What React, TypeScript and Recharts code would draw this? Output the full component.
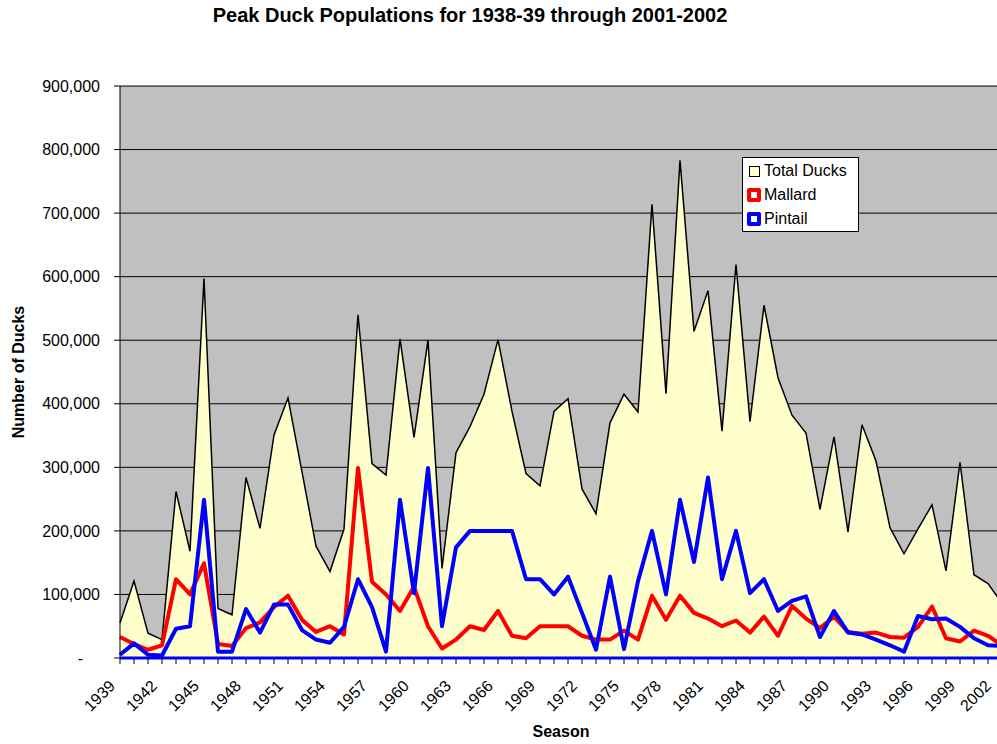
import React from 'react';
import {
  ComposedChart, Area, Line, XAxis, YAxis, CartesianGrid, Legend,
} from 'recharts';

const FONT = '"Liberation Sans", Arial, sans-serif';

// season end years, one point each
const years = [
  1939, 1940, 1941, 1942, 1943, 1944, 1945, 1946, 1947, 1948,
  1949, 1950, 1951, 1952, 1953, 1954, 1955, 1956, 1957, 1958,
  1959, 1960, 1961, 1962, 1963, 1964, 1965, 1966, 1967, 1968,
  1969, 1970, 1971, 1972, 1973, 1974, 1975, 1976, 1977, 1978,
  1979, 1980, 1981, 1982, 1983, 1984, 1985, 1986, 1987, 1988,
  1989, 1990, 1991, 1992, 1993, 1994, 1995, 1996, 1997, 1998,
  1999, 2000, 2001, 2002,
];

// years that get a printed label on the x axis
const labeledYears = [
  1939, 1942, 1945, 1948, 1951, 1954, 1957, 1960, 1963, 1966, 1969,
  1972, 1975, 1978, 1981, 1984, 1987, 1990, 1993, 1996, 1999, 2002,
];

const totalDucks = [
  55000, 121000, 39000, 29000, 262000, 168000, 597000, 78000, 68000, 284000,
  204000, 351000, 409000, 293000, 176000, 136000, 203000, 540000, 306000, 288000,
  502000, 347000, 500000, 141000, 323000, 364000, 415000, 501000, 388000, 290000,
  271000, 388000, 408000, 266000, 227000, 370000, 415000, 387000, 714000, 416000,
  783000, 514000, 578000, 357000, 619000, 372000, 555000, 441000, 382000, 354000,
  234000, 348000, 198000, 367000, 310000, 205000, 164000, 203000, 241000, 137000,
  308000, 131000, 117000, 86000,
];

const mallard = [
  33000, 22000, 13000, 20000, 124000, 100000, 149000, 22000, 19000, 47000,
  56000, 80000, 98000, 60000, 41000, 50000, 37000, 299000, 120000, 100000,
  74000, 112000, 50000, 15000, 29000, 50000, 44000, 74000, 35000, 31000,
  50000, 50000, 50000, 35000, 29000, 29000, 43000, 29000, 98000, 60000,
  98000, 71000, 62000, 50000, 59000, 40000, 65000, 35000, 82000, 62000,
  47000, 65000, 41000, 38000, 40000, 33000, 32000, 49000, 81000, 31000,
  26000, 43000, 35000, 20000,
];

const pintail = [
  5000, 23000, 5000, 4000, 46000, 50000, 249000, 10000, 10000, 77000,
  40000, 84000, 84000, 44000, 29000, 24000, 49000, 124000, 80000, 10000,
  249000, 102000, 299000, 50000, 174000, 200000, 200000, 200000, 200000, 124000,
  124000, 100000, 128000, 71000, 13000, 128000, 14000, 121000, 200000, 100000,
  249000, 151000, 284000, 124000, 200000, 102000, 124000, 74000, 90000, 97000,
  33000, 74000, 40000, 37000, 29000, 20000, 10000, 66000, 61000, 62000,
  49000, 31000, 20000, 19000,
];

const yTicks = [0, 100000, 200000, 300000, 400000, 500000, 600000, 700000, 800000, 900000];

const data = years.map((year, i) => ({
  year,
  total: totalDucks[i],
  mallard: mallard[i],
  pintail: pintail[i],
}));

const legendItems = [
  { label: 'Total Ducks', fill: '#FFFFCC', border: '#000000', size: 11, width: 1 },
  { label: 'Mallard', fill: '#FFFFFF', border: '#FF0000', size: 14, width: 4 },
  { label: 'Pintail', fill: '#FFFFFF', border: '#0000FF', size: 14, width: 4 },
];

function XTick(props: any) {
  const { x, y, payload } = props;
  if (!labeledYears.includes(Number(payload.value))) return null;
  // last label is pulled back inside the page, as in the original
  const ax = Math.min(x - 4, 992);
  const ay = y + 21;
  return (
    <text
      x={ax} y={ay}
      transform={`rotate(-45, ${ax}, ${ay})`}
      textAnchor="end"
      fontFamily={FONT}
      fontSize={16}
      fill="#000"
    >
      {payload.value}
    </text>
  );
}

function YTick(props: any) {
  const { x, y, payload } = props;
  const v = Number(payload.value);
  return (
    <text
      x={v === 0 ? x - 17 : x}
      y={y}
      dy="0.355em"
      textAnchor="end"
      fontFamily={FONT}
      fontSize={16}
      fill="#000"
    >
      {v === 0 ? '-' : v.toLocaleString('en-US')}
    </text>
  );
}

function renderLegend() {
  return (
    <div
      style={{
        width: 117, height: 75, boxSizing: 'border-box',
        background: '#fff', border: '1px solid #000',
        padding: '1px 0 0 4px', fontFamily: FONT, fontSize: 16, color: '#000',
      }}
    >
      {legendItems.map((it) => (
        <div key={it.label} style={{ display: 'flex', alignItems: 'center', height: 24 }}>
          <span style={{ width: 14, display: 'flex', justifyContent: 'center' }}>
            <span
              style={{
                display: 'block', width: it.size, height: it.size, boxSizing: 'border-box',
                background: it.fill, border: `${it.width}px solid ${it.border}`,
                borderRadius: it.width > 1 ? 2 : 0,
              }}
            />
          </span>
          <span style={{ marginLeft: 3, whiteSpace: 'nowrap' }}>{it.label}</span>
        </div>
      ))}
    </div>
  );
}

export default function App() {
  return (
    <div style={{ position: 'relative', width: 997, height: 744, overflow: 'hidden', background: '#fff' }}>
      <style>{'html,body{margin:0;overflow:hidden}'}</style>
      <div
        style={{
          position: 'absolute', left: 0, top: 5, width: 940, textAlign: 'center',
          fontFamily: FONT, fontWeight: 'bold', fontSize: 20, lineHeight: '20px', color: '#000',
        }}
      >
        Peak Duck Populations for 1938-39 through 2001-2002
      </div>
      <ComposedChart
        width={1008}
        height={744}
        data={data}
        margin={{ top: 86, right: 6, bottom: 0, left: 0 }}
      >
        <CartesianGrid vertical={false} fill="#C0C0C0" stroke="#000" strokeOpacity={1} />
        <YAxis
          domain={[0, 900000]}
          ticks={yTicks}
          interval={0}
          width={120}
          tickSize={6}
          tickMargin={14}
          tick={<YTick />}
          tickLine={{ stroke: '#000' }}
          axisLine={{ stroke: '#000' }}
          label={(p: any) => {
            const vb = p.viewBox;
            const cx = vb.x + 18;
            const cy = vb.y + vb.height / 2;
            return (
              <text
                x={cx} y={cy}
                transform={`rotate(-90, ${cx}, ${cy})`}
                textAnchor="middle"
                dominantBaseline="central"
                fontFamily={FONT}
                fontWeight="bold"
                fontSize={16}
                fill="#000"
              >
                Number of Ducks
              </text>
            );
          }}
        />
        <Area
          type="linear"
          dataKey="total"
          name="Total Ducks"
          fill="#FFFFCC"
          fillOpacity={1}
          stroke="#000"
          strokeWidth={1.5}
          isAnimationActive={false}
        />
        <Line
          type="linear"
          dataKey="mallard"
          name="Mallard"
          stroke="#FF0000"
          strokeWidth={4}
          strokeLinejoin="round"
          dot={false}
          activeDot={false}
          isAnimationActive={false}
        />
        <Line
          type="linear"
          dataKey="pintail"
          name="Pintail"
          stroke="#0000FF"
          strokeWidth={4}
          strokeLinejoin="round"
          dot={false}
          activeDot={false}
          isAnimationActive={false}
        />
        <XAxis
          dataKey="year"
          scale="point"
          padding={{ left: 0, right: 0 }}
          interval={0}
          height={86}
          tickSize={6}
          tick={<XTick />}
          tickLine={{ stroke: '#000' }}
          axisLine={{ stroke: '#0000FF', strokeWidth: 3 }}
          label={(p: any) => {
            const vb = p.viewBox;
            return (
              <text
                x={vb.x + vb.width / 2}
                y={vb.y + 73}
                textAnchor="middle"
                dominantBaseline="central"
                fontFamily={FONT}
                fontWeight="bold"
                fontSize={16}
                fill="#000"
              >
                Season
              </text>
            );
          }}
        />
        <Legend
          layout="vertical"
          align="center"
          verticalAlign="middle"
          content={renderLegend}
          wrapperStyle={{ left: 742, top: 157, width: 117 }}
        />
      </ComposedChart>
    </div>
  );
}
